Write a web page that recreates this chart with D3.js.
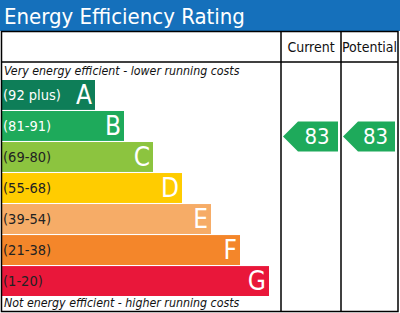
<!DOCTYPE html>
<html>
<head>
<meta charset="utf-8">
<script src="https://cdn.jsdelivr.net/npm/d3@7"></script>
<style>
  body { margin: 0; background: #fff; }
  svg text { font-family: "DejaVu Sans Condensed", "DejaVu Sans", sans-serif; }
</style>
</head>
<body>
<svg id="epc" width="400" height="313"></svg>
<script>
(function(){
  // chart data
  var letters = ['A','B','C','D','E','F','G']
  var ranges = ['(92 plus)','(81-91)','(69-80)','(55-68)','(39-54)','(21-38)','(1-20)']
  var bandMins = [92, 81, 69, 55, 39, 21, 1]
  var colours = ['#0e7e58','#1eaa5b','#8cc43f','#ffcc00','#f6ac67','#f4862a','#e9173a']
  var labelColours = ['#fff','#fff','#222','#222','#222','#222','#222']
  var columns = ['Current','Potential']
  var ratings = [83, 83]
  var title = 'Energy Efficiency Rating'
  var topNote = 'Very energy efficient - lower running costs'
  var bottomNote = 'Not energy efficient - higher running costs'

  var svg = d3.select('#epc'),
      width = +svg.attr('width'),
      height = +svg.attr('height')

  var tableTop = 31, headerBottom = 62, colX = [281, 341, 398]

  // title bar
  svg.append('rect')
    .attr('x', 0).attr('y', 0)
    .attr('width', width).attr('height', tableTop)
    .attr('fill', '#1570bb')
  svg.append('text')
    .text(title)
    .attr('x', 4).attr('y', 24)
    .attr('font-size', '22px')
    .attr('fill', '#fff')

  // bands
  var yScale = d3.scaleBand()
    .domain(letters)
    .range([80, 296])
    .paddingInner(0.035)
    .paddingOuter(0)

  var wScale = d3.scaleLinear()
    .domain([0, letters.length - 1])
    .range([95, 269])

  var bands = svg.append('g').attr('class', 'bands')
    .selectAll('g')
    .data(letters).enter()
    .append('g')

  bands.append('rect')
    .attr('x', 2)
    .attr('y', d => yScale(d))
    .attr('width', (d, i) => wScale(i) - 2)
    .attr('height', yScale.bandwidth())
    .attr('fill', (d, i) => colours[i])

  bands.append('text')
    .text((d, i) => ranges[i])
    .attr('x', 3)
    .attr('y', d => yScale(d) + yScale.bandwidth() / 2 + 5)
    .attr('font-size', '14.5px')
    .attr('fill', (d, i) => labelColours[i])

  bands.append('text')
    .text(d => d)
    .attr('x', (d, i) => wScale(i) - 3)
    .attr('y', d => yScale(d) + yScale.bandwidth() / 2 + 9)
    .attr('text-anchor', 'end')
    .attr('font-size', '26px')
    .attr('fill', '#fff')

  // notes
  svg.append('text')
    .text(topNote)
    .attr('x', 4).attr('y', 75)
    .attr('font-size', '12.3px')
    .attr('font-style', 'italic')
    .attr('fill', '#111')
  svg.append('text')
    .text(bottomNote)
    .attr('x', 4).attr('y', 307)
    .attr('font-size', '12.3px')
    .attr('font-style', 'italic')
    .attr('fill', '#111')

  // rating -> y, piecewise through band edges
  var ratingY = d3.scaleLinear()
    .domain(bandMins)
    .range(letters.slice(1).map(d => yScale(d)).concat([yScale('G') + yScale.bandwidth()]))
    .clamp(true)

  // arrows
  var arrowH = 30
  columns.forEach(function(col, ci) {
    var x0 = colX[ci] + 2, x1 = colX[ci + 1] - 3
    var cy = ratingY(ratings[ci])
    var idx = bandMins.findIndex(m => ratings[ci] >= m)
    var pts = [
      [x0, cy], [x0 + 15, cy - arrowH / 2], [x1, cy - arrowH / 2],
      [x1, cy + arrowH / 2], [x0 + 15, cy + arrowH / 2]
    ]
    svg.append('path')
      .attr('d', d3.line()(pts) + 'Z')
      .attr('fill', colours[idx])
    svg.append('text')
      .text(ratings[ci])
      .attr('x', (x0 + 13 + x1) / 2)
      .attr('y', cy + 8)
      .attr('text-anchor', 'middle')
      .attr('font-size', '22px')
      .attr('fill', '#fff')

    svg.append('text')
      .text(col)
      .attr('x', (colX[ci] + colX[ci + 1]) / 2)
      .attr('y', 52)
      .attr('text-anchor', 'middle')
      .attr('font-size', '14px')
      .attr('fill', '#111')
  })

  // table lines
  var lines = svg.append('g').attr('stroke', '#000').attr('stroke-width', 1.5).attr('fill', 'none')
  lines.append('rect')
    .attr('x', 1.5).attr('y', tableTop + 0.5)
    .attr('width', colX[2] - 1.5).attr('height', height - tableTop - 2)
  lines.append('line')
    .attr('x1', 1.5).attr('x2', colX[2])
    .attr('y1', headerBottom).attr('y2', headerBottom)
  colX.slice(0, 2).forEach(function(x) {
    lines.append('line')
      .attr('x1', x).attr('x2', x)
      .attr('y1', tableTop).attr('y2', height - 1.5)
  })
})()
</script>
</body>
</html>
